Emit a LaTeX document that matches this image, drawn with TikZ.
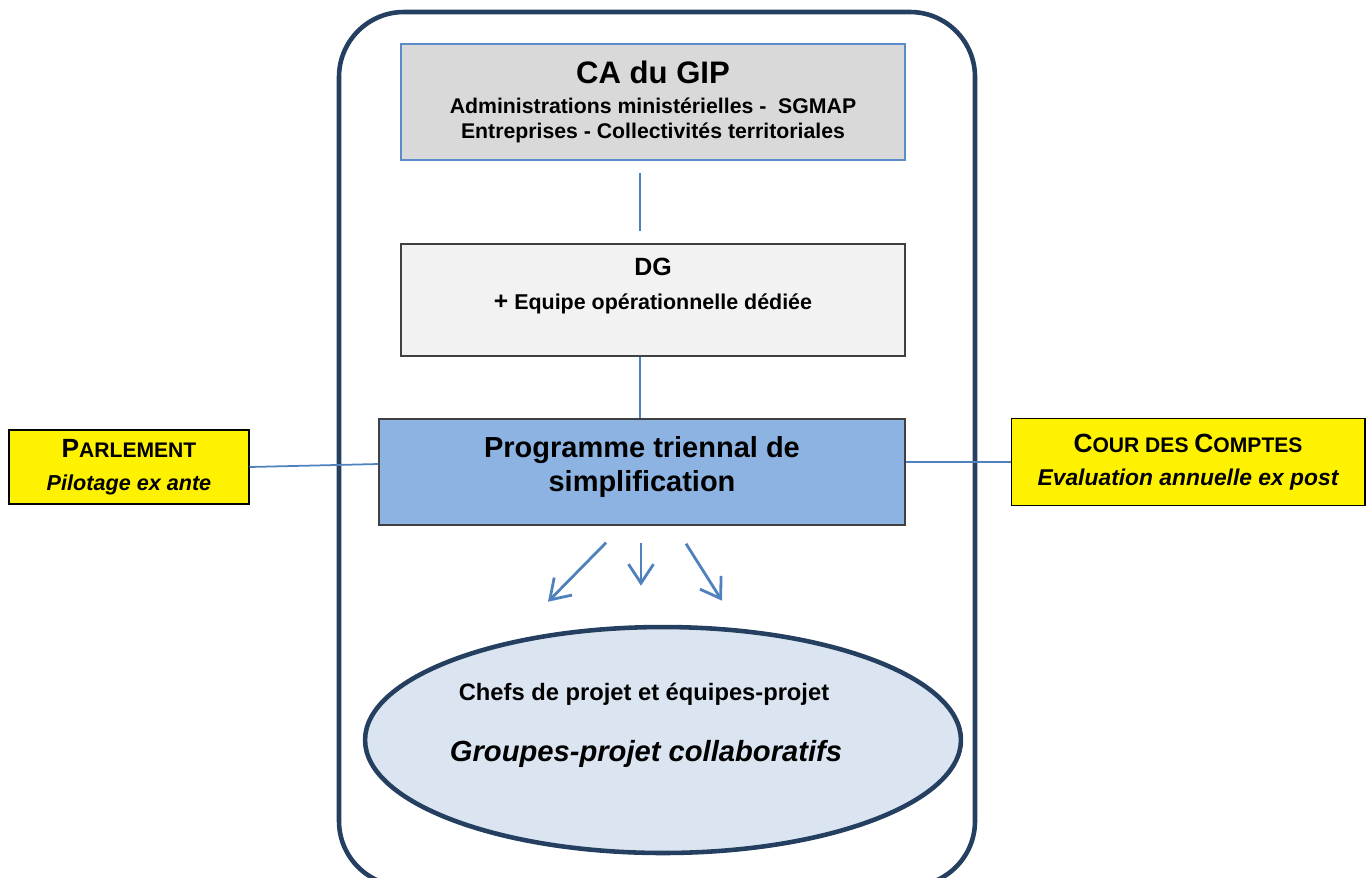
\documentclass[tikz,border=0pt]{standalone}
\usepackage{fontspec}
\setmainfont{Liberation Sans}
\usepackage{tikz}
\usetikzlibrary{arrows.meta, shapes.geometric, positioning}

\definecolor{framenavy}{HTML}{243F60}
\definecolor{linkblue}{HTML}{4F81BD}
\definecolor{cagray}{HTML}{D9D9D9}
\definecolor{caborder}{HTML}{5B8BC9}
\definecolor{dggray}{HTML}{F2F2F2}
\definecolor{progblue}{HTML}{8DB3E2}
\definecolor{groupfill}{HTML}{DBE5F1}
\definecolor{borderdark}{HTML}{404040}

\newcommand{\fsz}[2]{\fontsize{#1}{#2}\selectfont}

\begin{document}
\begin{tikzpicture}[
  x=0.02cm, y=-0.02cm,
  box/.style={draw=borderdark, line width=0.8pt, rectangle, inner sep=0pt, align=center},
  actor/.style={draw=black, fill=yellow, line width=0.6pt, rectangle, inner sep=0pt, align=center},
  link/.style={draw=linkblue, line width=1pt},
  flow/.style={draw=linkblue, line width=1.6pt, -{Straight Barb[length=3.8mm,width=5mm]}}
]
  \useasboundingbox (0,0) rectangle (1371,877);

  % outer frame of the GIP
  \draw[framenavy, line width=2.6pt, rounded corners=1.3cm] (339,12) rectangle (975,886);

  \node[box, draw=caborder, line width=1.1pt, fill=cagray, minimum width=10.08cm, minimum height=2.32cm,
        font=\bfseries\fsz{12.1}{14.2}] (ca) at (653,102)
    {{\fsz{17.7}{20}CA du GIP}\\[2.5pt]
     Administrations ministérielles -~ SGMAP\\
     Entreprises - Collectivités territoriales};

  \node[box, fill=dggray, minimum width=10.08cm, minimum height=2.24cm] (dg) at (653,300) {};
  \node[font=\bfseries\fsz{12.2}{14.6}, align=center] (dgtext) at (653,286)
    {{\fsz{14.2}{17}DG}\\[5pt]
     {\fsz{14}{14.6}+} Equipe opérationnelle dédiée};

  \node[box, fill=progblue, minimum width=10.52cm, minimum height=2.12cm] (prog) at (642,472) {};
  \node[font=\bfseries\fsz{16.5}{19.3}, align=center] (progtext) at (642,467)
    {Programme triennal de\\simplification};

  \node[actor, minimum width=4.8cm, minimum height=1.48cm, font=\bfseries\itshape\fsz{12.3}{15.5}] (parl) at (129,467)
    {{\upshape\fsz{15}{18}P\fsz{12}{15}ARLEMENT}\\[3pt]
     Pilotage ex ante};
  \node[actor, minimum width=7.08cm, minimum height=1.74cm, font=\bfseries\itshape\fsz{13}{15.9}] (cour) at (1188,462)
    {{\upshape\fsz{15}{18}C\fsz{12}{15}OUR DES \fsz{15}{18}C\fsz{12}{15}OMPTES}\\[2.5pt]
     Evaluation annuelle ex post};

  \node[ellipse, draw=framenavy, fill=groupfill, line width=2.6pt, minimum width=11.92cm, minimum height=4.52cm, inner sep=0pt] (groups) at (663,740) {};
  \node[font=\bfseries\fsz{13.5}{16}] (chefs) at (644,694) {Chefs de projet et équipes-projet};
  \node[font=\bfseries\itshape\fsz{16.6}{20}] (collab) at (646,754) {Groupes-projet collaboratifs};

  % links
  \draw[link] ([shift={(-13,12)}]ca.south) -- ([shift={(-13,-12)}]dg.north);
  \draw[link] ([xshift=-0.26cm]dg.south) -- ([xshift=-0.26cm]dg.south |- prog.north);
  \draw[link] (parl.east) -- ([yshift=0.16cm]prog.west);
  \draw[link] (prog.east |- cour.west) -- (cour.west);

  \draw[flow] ([shift={(-36,17)}]prog.south) -- ([shift={(-94,76)}]prog.south);
  \draw[flow] ([shift={(-1,17)}]prog.south) -- ([shift={(-1,60)}]prog.south);
  \draw[flow] ([shift={(44,18)}]prog.south) -- ([shift={(80,75)}]prog.south);
\end{tikzpicture}
\end{document}
